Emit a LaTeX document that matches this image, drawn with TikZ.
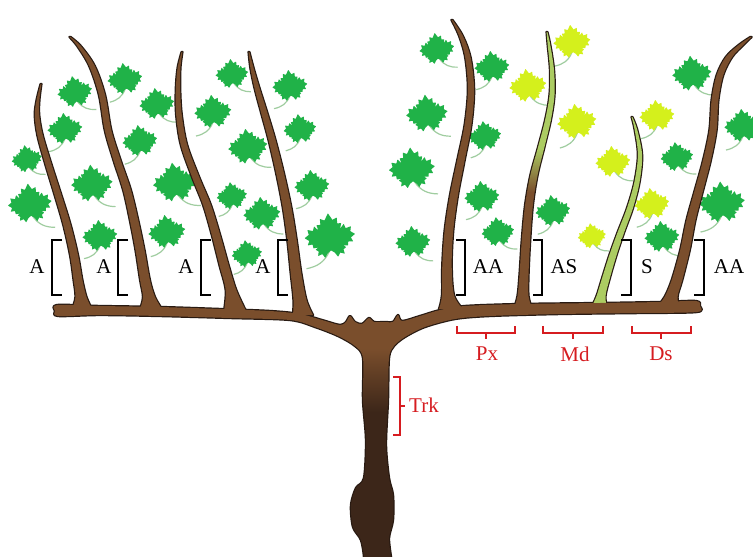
\documentclass[tikz,border=0pt]{standalone}
\usepackage{fontspec}
\setmainfont{Liberation Serif}

\definecolor{wood}{RGB}{122,78,44}
\definecolor{trunkdark}{RGB}{60,38,25}
\definecolor{woodline}{RGB}{40,26,18}
\definecolor{leafdark}{RGB}{32,178,72}
\definecolor{leafyellow}{RGB}{212,240,28}
\definecolor{stemcol}{RGB}{160,205,160}
\definecolor{shootgreen}{RGB}{172,204,98}
\definecolor{labelred}{RGB}{214,28,32}

% trunk darkens towards the ground
\pgfdeclareverticalshading{woodshade}{100bp}{color(0bp)=(trunkdark); color(54bp)=(trunkdark); color(66bp)=(wood); color(100bp)=(wood)}
% young shoot: woody at the base, green above
\pgfdeclareverticalshading{asshade}{100bp}{color(0bp)=(wood); color(46bp)=(wood); color(54bp)=(shootgreen); color(100bp)=(shootgreen)}

% tapered shoot: list of centre x / y / half width, top to base
\newcommand\vineshoot[2]{%
  \gdef\shootL{}\gdef\shootR{}%
  \edef\shootlist{#2}%
  \foreach \px/\py/\ph in \shootlist{%
    \pgfmathsetmacro\xl{\px-\ph}%
    \pgfmathsetmacro\xr{\px+\ph}%
    \xdef\shootL{\shootL(\xl,\py)}%
    \xdef\shootR{(\xr,\py)\shootR}%
  }%
  \edef\shootcmd{\noexpand\path[#1] plot[smooth,tension=0.55] coordinates {\shootL} -- plot[smooth,tension=0.55] coordinates {\shootR} -- cycle;}%
  \shootcmd}

% cordon arms, head and trunk as one outline
\def\woodpts{(57,305) (100,306) (160,307) (220,309) (270,311) (300,314) (322,320) (340,325) (346,322) (350,316) (355,322) (362,324) (369,318) (374,322) (386,322) (393,322) (398,315) (402,321) (420,316) (440,310) (465,306) (520,304) (600,303) (660,302) (696,301) (700,306) (697,312) (640,313) (560,314) (490,316) (455,319) (425,327) (405,337) (394,346) (389,358) (388,400) (386,445) (389,478) (393,495) (393,520) (389,538) (391,557) (392,566) (363,566) (364,557) (361,540) (353,527) (351,505) (356,488) (364,478) (366,440) (363,400) (363,358) (355,346) (338,336) (315,327) (290,320) (230,318) (160,316) (100,315) (58,316) (55,311)}
\newcommand\woodcmd[1]{\edef\woodtmp{\noexpand\path[#1] plot[smooth cycle,tension=0.5] coordinates {\woodpts};}\woodtmp}

\def\shootA{41/84/0.4, 38/100/1.4, 37/115/2.2, 40/135/2.7, 48/163/3.1, 58/195/3.4, 67/225/3.7, 74/255/4, 78/280/4.4, 81/297/5.5, 82/309/10}
\def\shootB{70/37/0.5, 79/46/1.8, 92/66/2.8, 102/95/3.1, 108/130/3.3, 117/160/3.6, 127/190/3.9, 134/220/4.2, 140/250/4.5, 145/280/4.9, 149/297/6, 151/309/11}
\def\shootC{182/52/0.4, 179/68/1.4, 178/90/2.2, 179/115/2.8, 184/145/3.2, 196/178/3.6, 207/205/3.9, 216/235/4.2, 224/265/4.6, 231/290/5.3, 235/311/11}
\def\shootD{249/52/0.4, 252/68/1.6, 257/88/2.5, 264/112/3.1, 272/140/3.5, 280/173/3.9, 287/207/4.3, 292/240/4.7, 296/273/5.3, 300/300/6.5, 303/315/10}
\def\shootE{452/20/0.5, 461/36/1.9, 468/58/2.7, 471/90/3.1, 468/125/3.4, 461/160/3.7, 454/195/4, 449/230/4.3, 447/265/4.7, 448/295/6, 451/309/12}
\def\shootF{547/32/0.4, 549/45/1.3, 552/70/2, 552/95/2.5, 548/120/2.9, 541/148/3.2, 534/175/3.6, 529/205/3.9, 526/240/4.2, 524/275/4.5, 523/296/5.5, 523/308/9}
\def\shootG{632/117/0.4, 636/130/1.3, 640/155/2.1, 637/182/2.6, 630/208/3, 621/232/3.3, 613/255/3.6, 606/278/3.9, 601/296/4.5, 599/308/8}
\def\shootH{751/37/0.6, 741/45/2.4, 729/57/3.2, 720/75/3.3, 715/100/3.4, 713/130/3.6, 707/160/3.9, 699/190/4.2, 691/220/4.5, 685/250/4.8, 677/280/5.3, 671/297/6.5, 668/308/12}

\tikzset{
  outl/.style={draw=woodline, line width=2.4pt, line join=round},
  stemline/.style={draw=stemcol, line width=1.2pt},
  toR/.style={scale=1.08*#1},
  toL/.style={xscale=-1.08*#1, yscale=1.08*#1},
  leaf/.pic={
    \draw[stemline] (0.05,0.5) .. controls (0.3,0.95) and (0.6,1.1) .. (1.05,1.15);
    \fill[#1, rounded corners=0.4pt] (0,0.5) -- (0.14,0.6) -- (0.26,0.78) -- (0.36,0.62) -- (0.54,0.68) -- (0.5,0.5) -- (0.62,0.42) -- (0.5,0.34) -- (0.7,0.36) -- (0.72,0.2) -- (0.92,0.22) -- (0.84,0.05) -- (1.02,-0.08) -- (0.84,-0.2) -- (0.88,-0.4) -- (0.66,-0.34) -- (0.6,-0.52) -- (0.44,-0.34) -- (0.5,-0.56) -- (0.34,-0.56) -- (0.34,-0.8) -- (0.16,-0.72) -- (0,-1.0) -- (-0.16,-0.72) -- (-0.34,-0.8) -- (-0.34,-0.56) -- (-0.5,-0.56) -- (-0.44,-0.34) -- (-0.6,-0.52) -- (-0.66,-0.34) -- (-0.88,-0.4) -- (-0.84,-0.2) -- (-1.02,-0.08) -- (-0.84,0.05) -- (-0.92,0.22) -- (-0.72,0.2) -- (-0.7,0.36) -- (-0.5,0.34) -- (-0.62,0.42) -- (-0.5,0.5) -- (-0.54,0.68) -- (-0.36,0.62) -- (-0.26,0.78) -- (-0.14,0.6) -- cycle;
  },
  lab/.style={inner sep=0pt, font=\fontsize{21}{21}\selectfont},
  rlab/.style={lab, text=labelred},
  bracket/.style={draw=black, line width=1.3pt},
  redbrace/.style={draw=labelred, line width=1.1pt},
}

\begin{document}
\begin{tikzpicture}[x=1pt, y=-1pt]
\useasboundingbox (0,0) rectangle (753,557);
\fill[white] (0,0) rectangle (753,557);

% ---- leaves (behind the wood) ----
\foreach \lx/\ly/\ls/\lr in {75/93/16/10, 157/105/16/8, 232/75/15/6, 27/160/14/10, 92/185/19/5, 175/184/20/8, 30/205/20/6, 248/148/18/8, 262/215/17/6,
    437/50/16/8, 427/115/19/6, 412/170/21/5, 498/233/15/8, 413/243/16/6, 692/75/18/6, 677/158/15/8, 662/238/16/6}
  \pic[toR=\ls, rotate=\lr] at (\lx,\ly) {leaf=leafdark};
\foreach \lx/\ly/\ls/\lr in {125/80/16/8, 65/130/16/6, 140/142/16/8, 213/113/17/6, 232/197/14/8, 290/87/16/6, 300/130/15/8, 312/187/16/6, 330/238/23/5, 247/255/14/8, 100/237/16/6, 167/233/17/8,
    492/68/16/6, 485/137/15/8, 482/198/16/6, 553/212/16/8, 743/127/17/6, 722/204/21/5}
  \pic[toL=\ls, rotate=-\lr] at (\lx,\ly) {leaf=leafdark};
\foreach \lx/\ly/\ls/\lr in {528/87/17/8, 613/163/16/6, 592/237/13/8}
  \pic[toR=\ls, rotate=\lr] at (\lx,\ly) {leaf=leafyellow};
\foreach \lx/\ly/\ls/\lr in {572/43/17/6, 577/123/18/8, 657/117/16/6, 652/205/16/8}
  \pic[toL=\ls, rotate=-\lr] at (\lx,\ly) {leaf=leafyellow};

% ---- outlines of all wood ----
\woodcmd{outl}
\vineshoot{outl}{\shootA}
\vineshoot{outl}{\shootB}
\vineshoot{outl}{\shootC}
\vineshoot{outl}{\shootD}
\vineshoot{outl}{\shootE}
\vineshoot{outl}{\shootF}
\vineshoot{outl}{\shootG}
\vineshoot{outl}{\shootH}

% ---- fills ----
\vineshoot{fill=wood}{\shootA}
\vineshoot{fill=wood}{\shootB}
\vineshoot{fill=wood}{\shootC}
\vineshoot{fill=wood}{\shootD}
\vineshoot{fill=wood}{\shootE}
\vineshoot{fill=wood}{\shootH}
\vineshoot{shade, shading=asshade}{\shootF}
\vineshoot{fill=shootgreen}{\shootG}
\woodcmd{shade, shading=woodshade}

% ---- brackets and labels: older shoots (left arm) ----
\draw[bracket] (62,240) -- (52,240) -- (52,295) -- (62,295);
\draw[bracket] (128,240) -- (118,240) -- (118,295) -- (128,295);
\draw[bracket] (211,240) -- (201,240) -- (201,295) -- (211,295);
\draw[bracket] (288,240) -- (278,240) -- (278,295) -- (288,295);
\node[lab] (lA1) at (37,267) {A};
\node[lab] (lA2) at (104,267) {A};
\node[lab] (lA3) at (186,267) {A};
\node[lab] (lA4) at (263,267) {A};

% ---- brackets and labels: right arm ----
\draw[bracket] (456,240) -- (465,240) -- (465,295) -- (456,295);
\draw[bracket] (533,240) -- (542,240) -- (542,295) -- (533,295);
\draw[bracket] (621,240) -- (631,240) -- (631,295) -- (621,295);
\draw[bracket] (694,240) -- (704,240) -- (704,295) -- (694,295);
\node[lab] (lAA1) at (488,267) {AA};
\node[lab] (lAS) at (564,267) {AS};
\node[lab] (lS) at (647,267) {S};
\node[lab] (lAA2) at (729,267) {AA};

% ---- cordon zones and trunk ----
\draw[redbrace] (457,326) -- (457,333) -- (515,333) -- (515,326);
\draw[redbrace] (486,333) -- (486,339);
\draw[redbrace] (543,326) -- (543,333) -- (603,333) -- (603,326);
\draw[redbrace] (573,333) -- (573,339);
\draw[redbrace] (632,326) -- (632,333) -- (691,333) -- (691,326);
\draw[redbrace] (661,333) -- (661,339);
\node[rlab] (lPx) at (487,354) {Px};
\node[rlab] (lMd) at (575,354) {Md};
\node[rlab] (lDs) at (661,354) {Ds};

\draw[redbrace] (393,377) -- (400,377) -- (400,435) -- (393,435);
\draw[redbrace] (400,406) -- (405,406);
\node[rlab, anchor=west] (lTrk) at (409,405) {Trk};
\end{tikzpicture}
\end{document}
